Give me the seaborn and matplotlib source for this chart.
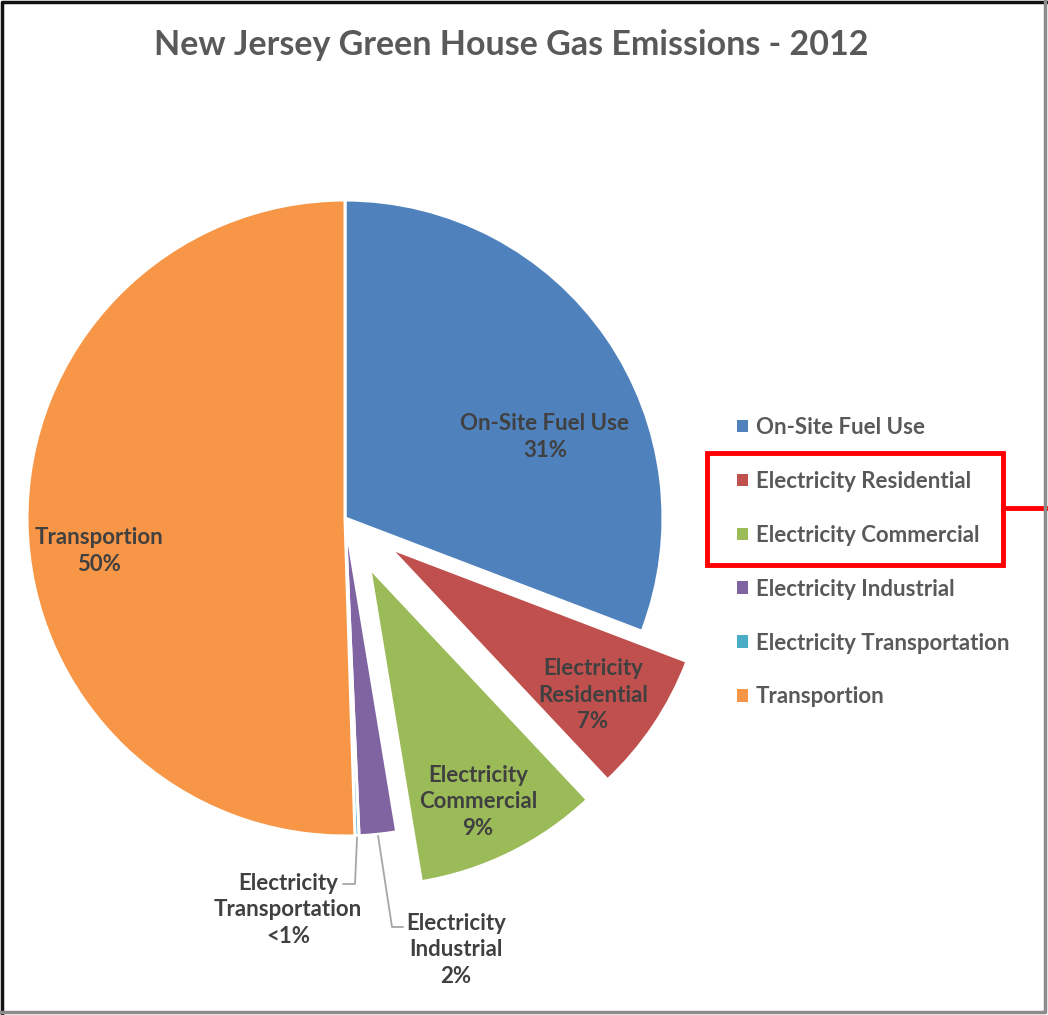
import matplotlib
matplotlib.use("Agg")
import matplotlib.pyplot as plt
from matplotlib.patches import Rectangle
from matplotlib.lines import Line2D
import numpy as np
import seaborn as sns

sns.set_theme(style="white")
plt.rcParams['font.family'] = ['Lato', 'DejaVu Sans']

# data
categories = ["On-Site Fuel Use", "Electricity Residential", "Electricity Commercial",
              "Electricity Industrial", "Electricity Transportation", "Transportion"]
slice_labels = ["On-Site Fuel Use", "Electricity\nResidential", "Electricity\nCommercial",
                "Electricity\nIndustrial", "Electricity\nTransportation", "Transportion"]
shares = [30.8, 7.2, 9.4, 1.9, 0.2, 50.5]
colors = ["#4F81BD", "#C0504D", "#9BBB59", "#8064A2", "#4BACC6", "#F79646"]
explode = [0, 0.17, 0.175, 0, 0, 0]

W, H = 1048, 1015
CX, CY, R = 345, 518, 318  # pie centre / radius in pixels


def px(x, y):
    # pixel position -> data units of the pie axes
    return (x - CX) / R, (CY - y) / R


fig = plt.figure(figsize=(W / 100, H / 100), dpi=100)
ax = fig.add_axes([0, 0, 1, 1])

palette = sns.color_palette(colors)
wedges, _ = ax.pie(shares, colors=palette, explode=explode,
                   startangle=90, counterclock=False, radius=1,
                   wedgeprops=dict(edgecolor="white", linewidth=2.2))
ax.set_xlim(-CX / R, (W - CX) / R)
ax.set_ylim((CY - H) / R, CY / R)
ax.set_aspect("equal", adjustable="datalim")
ax.axis("off")

# slice labels
pct = ["<1%" if v < 1 else f"{v:.0f}%" for v in shares]
label_pos = [px(545, 437), px(593, 695), px(478, 802),
             px(456, 950), px(288, 910), px(99, 551)]
for name, p, (x, y) in zip(slice_labels, pct, label_pos):
    ax.text(x, y, f"{name}\n{p}", ha="center", va="center", fontsize=16,
            fontweight="bold", color="#404040", linespacing=1.3)

# leader lines for the two thin slices
cum = np.cumsum([0] + shares[:-1])
for i, pts in [(3, [px(392, 927), px(403, 927)]), (4, [px(355, 884), px(343, 884)])]:
    mid = np.deg2rad((cum[i] + shares[i] / 2) / 100 * 360)
    start = (np.sin(mid) * 1.005, np.cos(mid) * 1.005)
    xs = [start[0]] + [p[0] for p in pts]
    ys = [start[1]] + [p[1] for p in pts]
    ax.plot(xs, ys, color="#A6A6A6", lw=1.3)

fig.text(511 / W, 1 - 45 / H, "New Jersey Green House Gas Emissions - 2012",
         ha="center", va="center", fontsize=24.5, fontweight="bold", color="#595959")

handles = [Rectangle((0, 0), 1, 1, fc=c, ec="none") for c in palette]
leg = ax.legend(handles, categories, loc="upper left",
                bbox_to_anchor=(717 / W, 1 - 397 / H), bbox_transform=fig.transFigure,
                frameon=False, prop=dict(family=['Lato', 'DejaVu Sans'], weight="bold", size=16),
                handlelength=0.5, handleheight=0.5,
                handletextpad=0.35, labelspacing=1.48)
for t in leg.get_texts():
    t.set_color("#595959")

# red highlight box around two legend entries
fig.add_artist(Rectangle((707 / W, 1 - 565 / H), (1003 - 707) / W, (565 - 453) / H,
                         transform=fig.transFigure, fill=False, ec="#FF0000", lw=3.5))
fig.add_artist(Line2D([1003 / W, 1], [1 - 508 / H] * 2, transform=fig.transFigure,
                      color="#FF0000", lw=3.5))

# outer frame
fig.add_artist(Line2D([0.002, 0.002, 1], [0, 0.998, 0.998], transform=fig.transFigure,
                      color="#111111", lw=2.5))
fig.add_artist(Line2D([0.997, 0.997, 0], [1, 0.003, 0.003], transform=fig.transFigure,
                      color="#8C8C8C", lw=2.5))

fig.savefig("out.png", dpi=100)
